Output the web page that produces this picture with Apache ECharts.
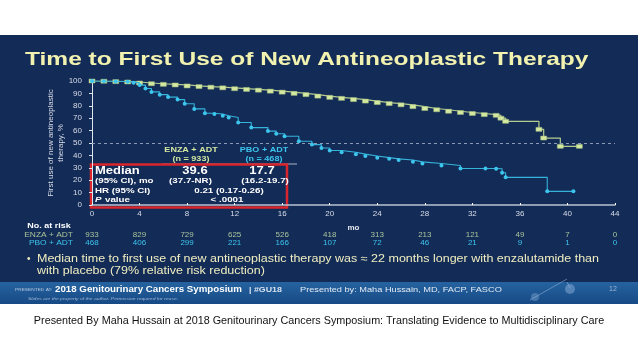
<!DOCTYPE html>
<html>
<head>
<meta charset="utf-8">
<script src="https://cdn.jsdelivr.net/npm/echarts@6/dist/echarts.min.js"></script>
<style>
html,body{margin:0;padding:0;background:#fff;}
#c{width:638px;height:359px;}
</style>
</head>
<body>
<div id="c"></div>
<script>
// ---- data ----
const xTicks = [0,4,8,12,16,20,24,28,32,36,40,44];
const enzaRisk = [933,829,729,625,526,418,313,213,121,49,7,0];
const pboRisk  = [468,406,299,221,166,107,72,46,21,9,1,0];
const enzaMonths = [0,1,2,3,4,5,6,7,8,9,10,11,12,13,14,15,16,17,18,19,20,21,22,23,24,25,26,27,28,29,30,31,32,33,34,34.4,34.8,37.6,38.0,39.4,41];
const enzaPct    = [100,99.8,99.5,99.2,98.4,97.8,97.3,96.8,96,95.5,95,94.5,93.8,93.2,92.6,91.8,91,90,89,87.8,86.8,86,85,83.8,82.6,81.8,80.8,79.3,77.8,76.8,75.6,74.6,73.8,72.9,72.3,70,67.5,61,54,47.3,47.3];
const pboMonths = [0,1,2,3,3.5,4,4.5,5,5.7,6.4,7.2,7.8,8.6,9.5,10.3,11,11.5,12.3,13.4,14.8,15.5,16.2,17.4,18.5,19.3,20,21,22.2,23,24,25,25.8,27,27.8,29.4,31,33.1,34,34.5,34.8,38.3,40.5];
const pboPct    = [100,99.8,99.6,99.3,98.5,96.7,94,91.2,89,87,85,81.6,77.5,74,73.4,72,70.6,66.5,62.4,59.6,57.5,55.5,51.4,48.7,46,44,42.5,41,39.5,38.2,37.2,36.3,34.8,33.5,31.9,29.4,29.4,29.2,26,22.3,11,11];

const ENZA_C = '#d4e9a0';
const ENZA_L = '#b3cc8e';
const PBO_C = '#3cc6ee';
const NAVY = '#132b57';

const chart = echarts.init(document.getElementById('c'), null, {renderer:'canvas'});
const FONT = 'Liberation Sans, Arial, sans-serif';

function riskAxis(arr, color, offset){
  return {
    type:'value', min:0, max:44, interval:4, position:'bottom', offset:offset,
    axisLine:{show:false}, axisTick:{show:false}, splitLine:{show:false},
    axisLabel:{color:color, fontSize:8, fontFamily:FONT, margin:5,
      formatter:v => { const i = xTicks.indexOf(v); return i>=0 ? String(arr[i]) : ''; }}
  };
}
function txt(x, y, text, fill, font, align, sx){
  return {type:'text', x:x, y:y, scaleX:sx||1,
    style:{text:text, fill:fill, font:font, textAlign:align||'left', textVerticalAlign:'middle'}};
}
const W = '#ffffff';
const S = 1.3;

const option = {
  backgroundColor:'#ffffff',
  animation:false,
  grid:{left:92, right:23, top:81, bottom:154},
  xAxis:[
    {type:'value', min:0, max:44, interval:4,
     name:'mo', nameLocation:'middle', nameGap:19, nameMoveOverlap:false,
     nameTextStyle:{color:'#e6e9f0', fontSize:8, fontWeight:'bold', fontFamily:FONT},
     axisLine:{lineStyle:{color:'#b9c2d4', width:1.5}},
     axisTick:{show:true, inside:true, length:2, lineStyle:{color:'#ffffff'}},
     splitLine:{show:false},
     axisLabel:{color:'#d9dde8', fontSize:8, fontFamily:FONT, margin:5,
       formatter:v => String(v)}},
    riskAxis(enzaRisk, '#a9c49b', 21),
    riskAxis(pboRisk, PBO_C, 29)
  ],
  yAxis:{type:'value', min:0, max:100, interval:10,
    name:'First use of new antineoplastic\ntherapy, %', nameLocation:'middle', nameRotate:90, nameGap:26, nameMoveOverlap:false,
    nameTextStyle:{color:'#d9dde8', fontSize:8, lineHeight:10, fontFamily:FONT, align:'center'},
    axisLine:{show:true, lineStyle:{color:'#e0e4ee', width:1}},
    axisTick:{show:true, length:3, lineStyle:{color:'#e0e4ee'}},
    splitLine:{show:false},
    axisLabel:{color:'#d9dde8', fontSize:8, fontFamily:FONT, margin:10}},
  series:[
    {name:'ENZA + ADT', type:'line', step:'end', xAxisIndex:0,
     data: enzaMonths.map((m,i)=>[m, enzaPct[i]]),
     showSymbol:true, symbol:'rect', symbolSize:[6,4],
     itemStyle:{color:ENZA_C, borderColor:'#9fb880', borderWidth:0.5},
     lineStyle:{color:ENZA_L, width:1.2},
     markLine:{silent:true, symbol:'none', label:{show:false},
       lineStyle:{color:'#8c9ab5', type:[3,3], width:1},
       data:[{yAxis:50}]},
     z:3},
    {name:'PBO + ADT', type:'line', step:'end', xAxisIndex:0,
     data: pboMonths.map((m,i)=>[m, pboPct[i]]),
     showSymbol:true, symbol:'circle', symbolSize:4,
     itemStyle:{color:PBO_C},
     lineStyle:{color:'#35b3da', width:1.1},
     z:4}
  ],
  graphic:[
    {type:'rect', z:-100, shape:{x:0,y:35,width:638,height:269}, style:{fill:NAVY}},
    {type:'rect', z:-99, shape:{x:0,y:282,width:638,height:22},
     style:{fill:new echarts.graphic.LinearGradient(0,0,0,1,[{offset:0,color:'#2563a0'},{offset:1,color:'#174a85'}])}},
    // title
    txt(25, 59.5, 'Time to First Use of New Antineoplastic Therapy', '#f2f2b0', 'bold 19px '+FONT, 'left', 1.29),
    // header above box
    txt(191, 150, 'ENZA + ADT', ENZA_C, 'bold 7.5px '+FONT, 'center', 1.2),
    txt(191, 159, '(n = 933)', ENZA_C, 'bold 7.5px '+FONT, 'center', 1.2),
    txt(264, 150, 'PBO + ADT', PBO_C, 'bold 7.5px '+FONT, 'center', 1.2),
    txt(264, 159, '(n = 468)', PBO_C, 'bold 7.5px '+FONT, 'center', 1.2),
    {type:'line', shape:{x1:162,y1:164,x2:297,y2:164}, style:{stroke:'#a9b3c6', lineWidth:1}},
    // red box
    {type:'rect', shape:{x:91,y:164.5,width:196,height:43}, style:{fill:'rgba(0,0,0,0)', stroke:'#d8262c', lineWidth:2.5}},
    txt(95, 171, 'Median', W, 'bold 10px '+FONT, 'left', S),
    txt(195, 171, '39.6', W, 'bold 10px '+FONT, 'center', S),
    txt(262, 171, '17.7', W, 'bold 10px '+FONT, 'center', S),
    txt(95, 181, '(95% CI), mo', W, 'bold 7.5px '+FONT, 'left', S),
    txt(190.5, 181, '(37.7-NR)', W, 'bold 7.5px '+FONT, 'center', S),
    txt(265, 181, '(16.2-19.7)', W, 'bold 7.5px '+FONT, 'center', S),
    txt(95, 190.5, 'HR (95% CI)', W, 'bold 7.5px '+FONT, 'left', S),
    txt(229, 190.5, '0.21 (0.17-0.26)', W, 'bold 7.5px '+FONT, 'center', S),
    txt(95, 199.5, 'P', W, 'italic bold 7.5px '+FONT, 'left', S),
    txt(105, 199.5, 'value', W, 'bold 7.5px '+FONT, 'left', S),
    txt(227, 199.5, '< .0001', W, 'bold 7.5px '+FONT, 'center', S),
    // no at risk
    txt(49, 226, 'No. at risk', W, 'bold 8px '+FONT, 'center', 1.12),
    txt(73, 235, 'ENZA + ADT', '#a9c49b', '8px '+FONT, 'right', 1.05),
    txt(73, 243, 'PBO + ADT', PBO_C, '8px '+FONT, 'right', 1.05),
    // bullet
    txt(27, 259, '•', '#f0eec0', '10px '+FONT, 'left', 1),
    txt(37, 259, 'Median time to first use of new antineoplastic therapy was \u2248 22 months longer with enzalutamide than', '#f0eec0', '10px '+FONT, 'left', 1.25),
    txt(37, 271, 'with placebo (79% relative risk reduction)', '#f0eec0', '10px '+FONT, 'left', 1.25),
    // footer
    txt(15, 289.5, 'PRESENTED AT:', '#b8c8e0', '4px '+FONT, 'left', 1.2),
    txt(55, 289.5, '2018 Genitourinary Cancers Symposium', W, 'bold 9px '+FONT, 'left', 1.08),
    txt(249, 289.5, '| #GU18', '#d8e2f0', 'bold 8px '+FONT, 'left', 1.1),
    txt(300, 289.5, 'Presented by: Maha Hussain, MD, FACP, FASCO', '#e4ebf5', '8px '+FONT, 'left', 1.15),
    txt(609, 289.5, '12', '#9fb6d6', '7px '+FONT, 'left', 1),
    txt(28, 298.5, 'Slides are the property of the author. Permission required for reuse.', '#9fb6d6', 'italic 4.2px '+FONT, 'left', 1.2),
    {type:'line', z:-98, shape:{x1:530,y1:300,x2:567,y2:279}, style:{stroke:'rgba(160,190,225,0.5)', lineWidth:1}},
    {type:'line', z:-98, shape:{x1:567,y1:282,x2:570,y2:288}, style:{stroke:'rgba(160,190,225,0.5)', lineWidth:1}},
    {type:'circle', z:-98, shape:{cx:570,cy:289,r:5}, style:{fill:'rgba(150,185,225,0.45)'}},
    {type:'circle', z:-98, shape:{cx:535,cy:297,r:4}, style:{fill:'rgba(150,185,225,0.35)'}},
    // caption
    txt(319, 321, 'Presented By Maha Hussain at 2018 Genitourinary Cancers Symposium: Translating Evidence to Multidisciplinary Care', '#111111', '10.8px '+FONT, 'center', 1)
  ]
};
chart.setOption(option);
</script>
</body>
</html>
